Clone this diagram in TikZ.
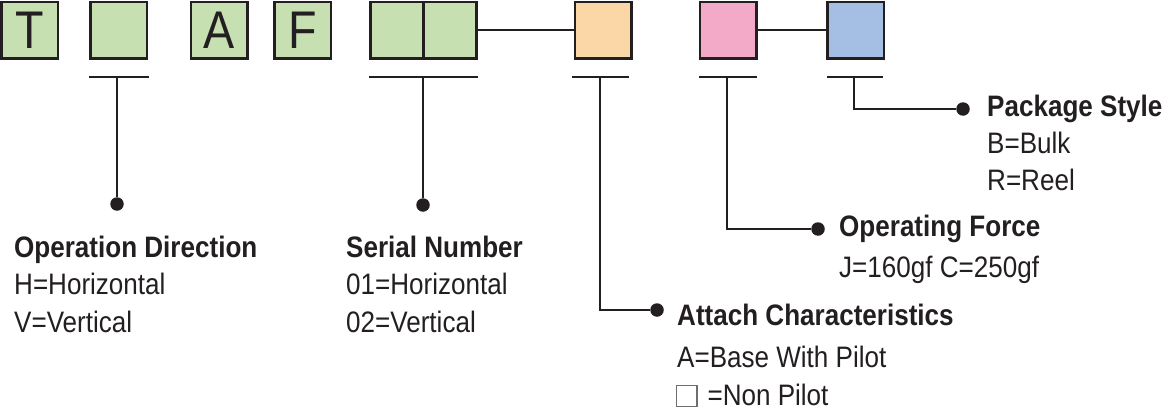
\documentclass[tikz,border=0pt]{standalone}
\usepackage{fontspec}
\setmainfont{Liberation Sans}[FakeStretch=0.88]
\definecolor{ink}{RGB}{35,31,32}
\definecolor{cgreen}{RGB}{198,224,178}
\definecolor{corange}{RGB}{251,215,167}
\definecolor{cpink}{RGB}{243,169,200}
\definecolor{cblue}{RGB}{164,190,228}
\definecolor{boxgray}{RGB}{110,110,110}
\begin{document}
\begin{tikzpicture}[x=1pt,y=-1pt,
  cbox/.style={draw=ink,line width=2.5pt,minimum width=56.5pt,minimum height=56.5pt,inner sep=0pt,
    font=\fontsize{53pt}{53pt}\selectfont,text=ink},
  halfbox/.style={cbox,minimum width=53pt},
  conn/.style={draw=ink,line width=2pt},
  ul/.style={draw=ink,line width=2.5pt},
  dot/.style={circle,fill=ink,inner sep=0pt,minimum size=13.5pt},
  head/.style={anchor=base west,inner sep=0pt,text=ink,font=\fontsize{29.6pt}{29.6pt}\selectfont\bfseries},
  body/.style={anchor=base west,inner sep=0pt,text=ink,font=\fontsize{29.6pt}{29.6pt}\selectfont}]
\useasboundingbox (0,0) rectangle (1162,415);
% code boxes
\node[cbox,fill=cgreen] (t) at (29.5,30) {T};
\node[cbox,fill=cgreen] (dir) at (118.5,30) {};
\node[cbox,fill=cgreen] (a) at (219,30) {A};
\node[cbox,fill=cgreen] (f) at (302.5,30) {F};
\node[halfbox,fill=cgreen] (s1) at (397,30) {};
\node[halfbox,fill=cgreen] (s2) at (450,30) {};
\node[cbox,fill=corange] (att) at (603,30) {};
\node[cbox,fill=cpink] (frc) at (728,30) {};
\node[cbox,fill=cblue] (pkg) at (855.5,30) {};
\draw[conn] (s2.east) -- (att.west);
\draw[conn] (frc.east) -- (pkg.west);
% underlines
\coordinate (u1l) at (89,77); \coordinate (u1r) at (149,77); \coordinate (u1m) at (117,77);
\coordinate (u2l) at (369,77); \coordinate (u2r) at (478,77); \coordinate (u2m) at (423,77);
\coordinate (u3l) at (572,77); \coordinate (u3r) at (629,77); \coordinate (u3m) at (600,77);
\coordinate (u4l) at (699,77); \coordinate (u4r) at (757,77); \coordinate (u4m) at (727,77);
\coordinate (u5l) at (827,77); \coordinate (u5r) at (883,77); \coordinate (u5m) at (854,77);
\draw[ul] (u1l) -- (u1r);
\draw[ul] (u2l) -- (u2r);
\draw[ul] (u3l) -- (u3r);
\draw[ul] (u4l) -- (u4r);
\draw[ul] (u5l) -- (u5r);
% dots and leaders
\node[dot] (d1) at (117,204) {};
\node[dot] (d2) at (423,205) {};
\node[dot] (d3) at (657,310) {};
\node[dot] (d4) at (818,229) {};
\node[dot] (d5) at (963,109) {};
\draw[conn] (u1m) -- (d1);
\draw[conn] (u2m) -- (d2);
\draw[conn] (u3m) |- (d3);
\draw[conn] (u4m) |- (d4);
\draw[conn] (u5m) |- (d5);
% labels
\node[head] (h1) at (14,257) {Operation Direction};
\node[body] (b1a) at (14,294) {H=Horizontal};
\node[body] (b1b) at (14,332) {V=Vertical};
\node[head] (h2) at (346,257) {Serial Number};
\node[body] (b2a) at (346,294) {01=Horizontal};
\node[body] (b2b) at (346,332) {02=Vertical};
\node[head] (h3) at (677,325) {Attach Characteristics};
\node[body] (b3a) at (677,367) {A=Base With Pilot};
\node[body] (b3b) at (676,405) {\textcolor{boxgray}{\fboxrule=1.2pt\fboxsep=0pt\raisebox{-1pt}{\fbox{\rule{0pt}{20pt}\hspace{19pt}}}}\hspace{10pt}=Non Pilot};
\node[head] (h4) at (839,236) {Operating Force};
\node[body] (b4a) at (839,277) {J=160gf C=250gf};
\node[head] (h5) at (987,116) {Package Style};
\node[body] (b5a) at (987,153) {B=Bulk};
\node[body] (b5b) at (987,190) {R=Reel};
\end{tikzpicture}
\end{document}
